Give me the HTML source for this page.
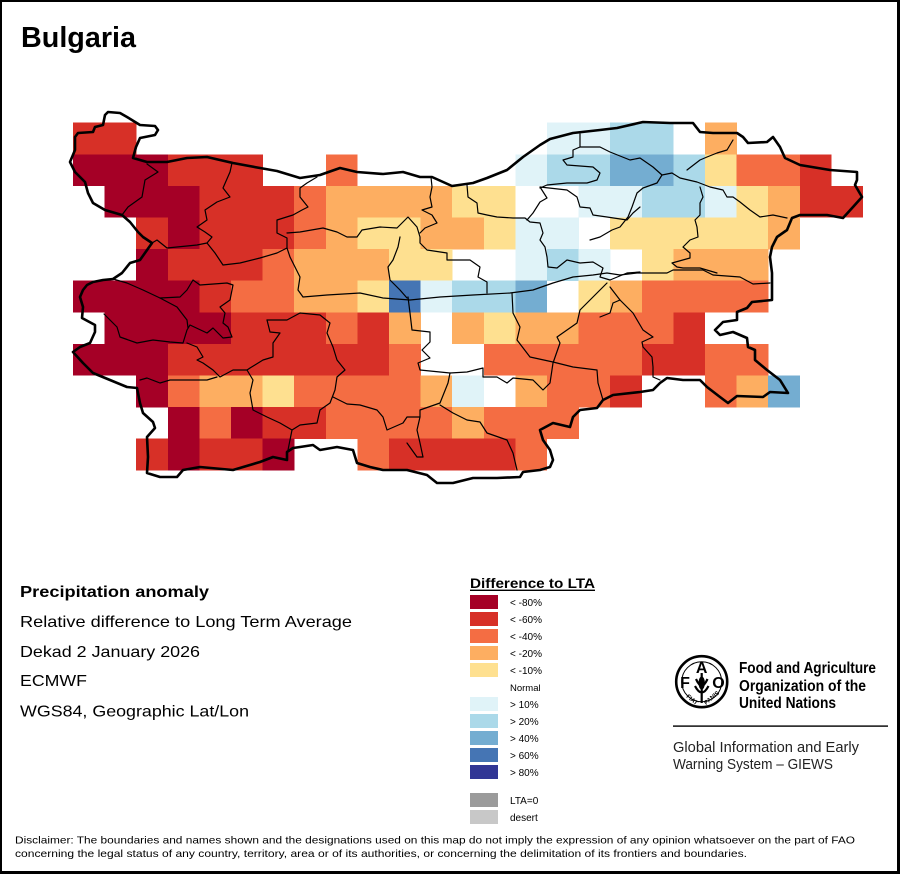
<!DOCTYPE html>
<html>
<head>
<meta charset="utf-8">
<style>
html,body{margin:0;padding:0;background:#fff;}
svg{display:block;}
text{font-family:"Liberation Sans",Arial,sans-serif;}
</style>
</head>
<body>
<svg width="900" height="874" viewBox="0 0 900 874" xmlns="http://www.w3.org/2000/svg">
<rect x="0" y="0" width="900" height="874" fill="#fff"/>

<!-- grid cells -->
<g shape-rendering="crispEdges">
<!-- row0 y122.7 -->
<rect x="73" y="122.7" width="63.4" height="31.8" fill="#d73027"/>
<rect x="547" y="122.7" width="63.4" height="31.8" fill="#e0f3f8"/>
<rect x="610.2" y="122.7" width="63.4" height="31.8" fill="#abd9e9"/>
<rect x="705" y="122.7" width="31.8" height="31.8" fill="#fdae61"/>
<!-- row1 y154.3 -->
<rect x="73" y="154.3" width="95" height="31.8" fill="#a50026"/>
<rect x="167.8" y="154.3" width="95" height="31.8" fill="#d73027"/>
<rect x="325.8" y="154.3" width="31.8" height="31.8" fill="#f46d43"/>
<rect x="515.4" y="154.3" width="31.8" height="31.8" fill="#e0f3f8"/>
<rect x="547" y="154.3" width="63.4" height="31.8" fill="#abd9e9"/>
<rect x="610.2" y="154.3" width="63.4" height="31.8" fill="#74add1"/>
<rect x="673.4" y="154.3" width="31.8" height="31.8" fill="#abd9e9"/>
<rect x="705" y="154.3" width="31.8" height="31.8" fill="#fee090"/>
<rect x="736.6" y="154.3" width="63.4" height="31.8" fill="#f46d43"/>
<rect x="799.8" y="154.3" width="31.8" height="31.8" fill="#d73027"/>
<!-- row2 y185.9 -->
<rect x="104.6" y="185.9" width="95" height="31.8" fill="#a50026"/>
<rect x="199.4" y="185.9" width="95" height="31.8" fill="#d73027"/>
<rect x="294.2" y="185.9" width="31.8" height="31.8" fill="#f46d43"/>
<rect x="325.8" y="185.9" width="126.6" height="31.8" fill="#fdae61"/>
<rect x="452.2" y="185.9" width="63.4" height="31.8" fill="#fee090"/>
<rect x="578.6" y="185.9" width="63.4" height="31.8" fill="#e0f3f8"/>
<rect x="641.8" y="185.9" width="63.4" height="31.8" fill="#abd9e9"/>
<rect x="705" y="185.9" width="31.8" height="31.8" fill="#e0f3f8"/>
<rect x="736.6" y="185.9" width="31.8" height="31.8" fill="#fee090"/>
<rect x="768.2" y="185.9" width="31.8" height="31.8" fill="#fdae61"/>
<rect x="799.8" y="185.9" width="63.4" height="31.8" fill="#d73027"/>
<!-- row3 y217.5 -->
<rect x="136.2" y="217.5" width="31.8" height="31.8" fill="#d73027"/>
<rect x="167.8" y="217.5" width="31.8" height="31.8" fill="#a50026"/>
<rect x="199.4" y="217.5" width="95" height="31.8" fill="#d73027"/>
<rect x="294.2" y="217.5" width="31.8" height="31.8" fill="#f46d43"/>
<rect x="325.8" y="217.5" width="31.8" height="31.8" fill="#fdae61"/>
<rect x="357.4" y="217.5" width="63.4" height="31.8" fill="#fee090"/>
<rect x="420.6" y="217.5" width="63.4" height="31.8" fill="#fdae61"/>
<rect x="483.8" y="217.5" width="31.8" height="31.8" fill="#fee090"/>
<rect x="515.4" y="217.5" width="63.4" height="31.8" fill="#e0f3f8"/>
<rect x="610.2" y="217.5" width="158.2" height="31.8" fill="#fee090"/>
<rect x="768.2" y="217.5" width="31.8" height="31.8" fill="#fdae61"/>
<!-- row4 y249.1 -->
<rect x="136.2" y="249.1" width="31.8" height="31.8" fill="#a50026"/>
<rect x="167.8" y="249.1" width="95" height="31.8" fill="#d73027"/>
<rect x="262.6" y="249.1" width="31.8" height="31.8" fill="#f46d43"/>
<rect x="294.2" y="249.1" width="95" height="31.8" fill="#fdae61"/>
<rect x="389" y="249.1" width="63.4" height="31.8" fill="#fee090"/>
<rect x="515.4" y="249.1" width="31.8" height="31.8" fill="#e0f3f8"/>
<rect x="547" y="249.1" width="31.8" height="31.8" fill="#abd9e9"/>
<rect x="578.6" y="249.1" width="31.8" height="31.8" fill="#e0f3f8"/>
<rect x="641.8" y="249.1" width="31.8" height="31.8" fill="#fee090"/>
<rect x="673.4" y="249.1" width="95" height="31.8" fill="#fdae61"/>
<!-- row5 y280.7 -->
<rect x="73" y="280.7" width="126.6" height="31.8" fill="#a50026"/>
<rect x="199.4" y="280.7" width="31.8" height="31.8" fill="#d73027"/>
<rect x="231" y="280.7" width="63.4" height="31.8" fill="#f46d43"/>
<rect x="294.2" y="280.7" width="63.4" height="31.8" fill="#fdae61"/>
<rect x="357.4" y="280.7" width="31.8" height="31.8" fill="#fee090"/>
<rect x="389" y="280.7" width="31.8" height="31.8" fill="#4575b4"/>
<rect x="420.6" y="280.7" width="31.8" height="31.8" fill="#e0f3f8"/>
<rect x="452.2" y="280.7" width="63.4" height="31.8" fill="#abd9e9"/>
<rect x="515.4" y="280.7" width="31.8" height="31.8" fill="#74add1"/>
<rect x="578.6" y="280.7" width="31.8" height="31.8" fill="#fee090"/>
<rect x="610.2" y="280.7" width="31.8" height="31.8" fill="#fdae61"/>
<rect x="641.8" y="280.7" width="126.6" height="31.8" fill="#f46d43"/>
<!-- row6 y312.3 -->
<rect x="104.6" y="312.3" width="126.6" height="31.8" fill="#a50026"/>
<rect x="231" y="312.3" width="95" height="31.8" fill="#d73027"/>
<rect x="325.8" y="312.3" width="31.8" height="31.8" fill="#f46d43"/>
<rect x="357.4" y="312.3" width="31.8" height="31.8" fill="#d73027"/>
<rect x="389" y="312.3" width="31.8" height="31.8" fill="#fdae61"/>
<rect x="452.2" y="312.3" width="31.8" height="31.8" fill="#fdae61"/>
<rect x="483.8" y="312.3" width="31.8" height="31.8" fill="#fee090"/>
<rect x="515.4" y="312.3" width="63.4" height="31.8" fill="#fdae61"/>
<rect x="578.6" y="312.3" width="95" height="31.8" fill="#f46d43"/>
<rect x="673.4" y="312.3" width="31.8" height="31.8" fill="#d73027"/>
<!-- row7 y343.9 -->
<rect x="73" y="343.9" width="95" height="31.8" fill="#a50026"/>
<rect x="167.8" y="343.9" width="221.4" height="31.8" fill="#d73027"/>
<rect x="389" y="343.9" width="31.8" height="31.8" fill="#f46d43"/>
<rect x="483.8" y="343.9" width="158.2" height="31.8" fill="#f46d43"/>
<rect x="641.8" y="343.9" width="63.4" height="31.8" fill="#d73027"/>
<rect x="705" y="343.9" width="63.4" height="31.8" fill="#f46d43"/>
<!-- row8 y375.5 -->
<rect x="136.2" y="375.5" width="31.8" height="31.8" fill="#a50026"/>
<rect x="167.8" y="375.5" width="31.8" height="31.8" fill="#f46d43"/>
<rect x="199.4" y="375.5" width="63.4" height="31.8" fill="#fdae61"/>
<rect x="262.6" y="375.5" width="31.8" height="31.8" fill="#fee090"/>
<rect x="294.2" y="375.5" width="126.6" height="31.8" fill="#f46d43"/>
<rect x="420.6" y="375.5" width="31.8" height="31.8" fill="#fdae61"/>
<rect x="452.2" y="375.5" width="31.8" height="31.8" fill="#e0f3f8"/>
<rect x="515.4" y="375.5" width="31.8" height="31.8" fill="#fdae61"/>
<rect x="547" y="375.5" width="63.4" height="31.8" fill="#f46d43"/>
<rect x="610.2" y="375.5" width="31.8" height="31.8" fill="#d73027"/>
<rect x="705" y="375.5" width="31.8" height="31.8" fill="#f46d43"/>
<rect x="736.6" y="375.5" width="31.8" height="31.8" fill="#fdae61"/>
<rect x="768.2" y="375.5" width="31.8" height="31.8" fill="#74add1"/>
<!-- row9 y407.1 -->
<rect x="167.8" y="407.1" width="31.8" height="31.8" fill="#a50026"/>
<rect x="199.4" y="407.1" width="31.8" height="31.8" fill="#f46d43"/>
<rect x="231" y="407.1" width="31.8" height="31.8" fill="#a50026"/>
<rect x="262.6" y="407.1" width="63.4" height="31.8" fill="#d73027"/>
<rect x="325.8" y="407.1" width="126.6" height="31.8" fill="#f46d43"/>
<rect x="452.2" y="407.1" width="31.8" height="31.8" fill="#fdae61"/>
<rect x="483.8" y="407.1" width="95" height="31.8" fill="#f46d43"/>
<!-- row10 y438.7 -->
<rect x="136.2" y="438.7" width="31.8" height="31.6" fill="#d73027"/>
<rect x="167.8" y="438.7" width="31.8" height="31.6" fill="#a50026"/>
<rect x="199.4" y="438.7" width="63.4" height="31.6" fill="#d73027"/>
<rect x="262.6" y="438.7" width="31.8" height="31.6" fill="#a50026"/>
<rect x="357.4" y="438.7" width="31.8" height="31.6" fill="#f46d43"/>
<rect x="389" y="438.7" width="126.6" height="31.6" fill="#d73027"/>
<rect x="515.4" y="438.7" width="31.8" height="31.6" fill="#f46d43"/>
</g>

<!-- internal boundaries -->
<g fill="none" stroke="#000" stroke-width="1.2" stroke-linejoin="round" stroke-linecap="round">
<polyline points="147,164 158,172 145,180 142,197 128,207 122,215"/>
<polyline points="232,163 230,172 223,188 230,197 217,202 205,210 207,220 197,227 205,232 212,237 207,243 197,245 167,248 157,240 152,243"/>
<polyline points="207,243 215,253 223,265 240,263 260,258 277,253 287,248 287,238 277,233 277,220 293,215 302,210 308,207 300,197 300,188 307,183 317,177"/>
<polyline points="287,233 300,232 323,228 337,232 347,237 357,237 362,230 380,227 397,228 408,217 417,227 420,237 420,243 427,250 447,253 447,260 470,260 480,267 478,277 487,282 487,293"/>
<polyline points="431,177 432,187 430,197 432,207 422,210 432,215 437,223 425,228 420,233"/>
<polyline points="400,237 398,247 393,260 388,267 390,280 400,290 407,298"/>
<polyline points="287,248 290,257 295,267 300,277 298,290 303,297 327,295 360,293 383,298 410,300 440,297 473,295 510,293 533,290 553,283 573,277 593,275 607,273 620,275 637,273 667,273 673,270 703,270 713,275 740,277 753,284 770,283"/>
<polyline points="113,279 127,283 143,290 160,298 180,297 187,290 193,280 200,285 227,283 233,285 230,300 220,307 225,313 223,323 228,327 232,337 223,338 220,335 213,328 207,333 190,325 187,330 183,343 170,342 153,340 137,343 120,337 117,327 104,314"/>
<polyline points="160,298 177,307 187,320 188,328"/>
<polyline points="267,320 287,320 300,313 320,315 330,323 327,333 333,347 337,360 345,370 337,377 335,390 330,403 320,410 317,423 300,425 292,430 290,440 288,450"/>
<polyline points="267,320 270,332 280,333 273,343 273,357 263,360 250,368 247,370 233,370 220,377 213,370 203,363 197,360 203,357 197,347 187,343"/>
<polyline points="247,370 253,380 250,393 253,410 267,417 280,423 292,430"/>
<polyline points="140,380 147,378 160,383 170,380 187,380 207,380 217,377"/>
<polyline points="333,397 347,404 360,405 377,410 383,417 387,430 403,423 407,417 420,417 420,410 440,403 448,383 450,373"/>
<polyline points="408,297 410,313 412,330 430,332 430,342 422,350 430,358 418,363 420,370 450,373 467,372 483,368 483,377 497,377 507,383 513,378 533,380 543,390 550,383 553,363 560,343 557,337 577,323 580,310 607,283"/>
<polyline points="512,293 513,313 520,327 517,340 530,357 553,362 573,367 597,370 598,383 603,400"/>
<polyline points="440,405 453,413 467,420 480,422 487,433 507,440 513,453 517,470"/>
<polyline points="420,417 417,430 420,443 423,457 417,457 407,443"/>
<polyline points="467,185 468,197 477,203 478,213 487,215 497,217 513,218 525,218 530,222 540,223 543,233 540,240 545,247 547,257 548,267 557,268 567,260 580,263 593,262 603,268 600,277 610,280 627,273 640,272"/>
<polyline points="527,220 533,213 540,202 547,198 540,187 567,190 577,197 580,207 590,208 593,215 607,217 627,220 633,213 640,207"/>
<polyline points="580,134 580,147 573,150 573,157 563,160 567,165 593,167 600,173 597,180 587,183 567,183 547,185 540,188"/>
<polyline points="580,147 600,147 610,152 630,160 640,158 653,167 662,175 672,173 680,178 697,182 710,187 723,190 727,197 733,197 740,202 750,210 760,217 773,215 787,218"/>
<polyline points="662,175 657,183 643,188 637,193 632,207 628,217 620,227 612,230 600,237 590,240"/>
<polyline points="687,170 700,160 707,157 717,153 727,150 733,140"/>
<polyline points="700,187 703,197 700,203 700,215 695,220 697,227 698,237 690,240 683,247 690,253 690,258 672,263 677,267 683,268 700,268 717,273"/>
<polyline points="610,287 620,300 633,313 643,330 653,337 642,342 643,347 652,357 653,367 653,377 660,380"/>
<polyline points="600,317 610,313 613,303 620,300"/>
</g>

<!-- outer border -->
<polygon fill="none" stroke="#000" stroke-width="2.6" stroke-linejoin="round" points="70,162 75,150 75,137 78,133 93,132 95,127 103,125 105,115 108,112 120,113 127,117 140,125 155,126 158,130 155,135 140,138 136,147 133,158 147,162 167,162 187,158 207,157 233,163 260,168 277,171 300,178 320,175 340,168 357,172 383,174 403,172 420,177 432,177 452,186 473,183 487,178 507,170 523,157 540,145 550,139 573,133 600,130 617,128 643,122 670,123 693,123 700,132 713,133 737,133 743,137 748,143 767,142 773,137 780,147 785,158 800,165 830,170 857,172 857,180 855,185 862,197 853,207 843,218 827,215 800,215 792,218 787,230 777,237 772,247 770,257 772,273 772,300 752,302 747,308 737,312 737,320 723,322 715,330 720,335 733,332 747,338 748,347 755,350 755,360 767,370 780,380 788,393 770,392 763,397 737,396 728,403 720,397 707,387 700,380 683,380 667,378 660,383 653,390 640,392 613,395 603,400 597,408 580,410 573,417 570,427 553,423 540,430 543,440 550,450 553,460 550,467 540,470 523,472 520,477 497,478 473,478 453,483 437,483 427,475 407,470 383,470 370,467 357,463 353,450 337,447 320,450 313,445 300,447 293,448 287,452 287,460 273,457 260,462 233,470 200,467 183,470 177,477 160,477 147,473 148,457 147,437 155,428 153,422 143,413 140,403 137,388 127,387 110,380 93,373 83,363 73,352 80,347 90,343 95,332 95,325 82,318 83,307 80,297 83,290 87,285 93,282 103,280 113,279 122,273 130,263 140,260 152,243 143,237 138,232 130,222 122,215 105,210 93,203 88,193 85,182 75,172"/>

<!-- title -->
<text x="21" y="47" font-size="28.5" font-weight="bold" textLength="115" lengthAdjust="spacingAndGlyphs">Bulgaria</text>

<!-- left text block -->
<text x="20" y="597" font-size="16" font-weight="bold" textLength="189" lengthAdjust="spacingAndGlyphs">Precipitation anomaly</text>
<text x="20" y="627" font-size="16" textLength="332" lengthAdjust="spacingAndGlyphs">Relative difference to Long Term Average</text>
<text x="20" y="657" font-size="16" textLength="180" lengthAdjust="spacingAndGlyphs">Dekad 2 January 2026</text>
<text x="20" y="686" font-size="16" textLength="67" lengthAdjust="spacingAndGlyphs">ECMWF</text>
<text x="20" y="716.5" font-size="16" textLength="229" lengthAdjust="spacingAndGlyphs">WGS84, Geographic Lat/Lon</text>

<!-- legend -->
<text x="470" y="588" font-size="14" font-weight="bold" textLength="125" lengthAdjust="spacingAndGlyphs">Difference to LTA</text>
<rect x="470" y="589.6" width="125" height="1.4" fill="#000"/>
<g shape-rendering="crispEdges">
<rect x="470" y="595" width="28" height="14" fill="#a50026"/>
<rect x="470" y="612" width="28" height="14" fill="#d73027"/>
<rect x="470" y="629" width="28" height="14" fill="#f46d43"/>
<rect x="470" y="646" width="28" height="14" fill="#fdae61"/>
<rect x="470" y="663" width="28" height="14" fill="#fee090"/>
<rect x="470" y="697" width="28" height="14" fill="#e0f3f8"/>
<rect x="470" y="714" width="28" height="14" fill="#abd9e9"/>
<rect x="470" y="731" width="28" height="14" fill="#74add1"/>
<rect x="470" y="748" width="28" height="14" fill="#4575b4"/>
<rect x="470" y="765" width="28" height="14" fill="#313695"/>
<rect x="470" y="793" width="28" height="14" fill="#9b9b9b"/>
<rect x="470" y="810" width="28" height="14" fill="#c8c8c8"/>
</g>
<g font-size="10">
<text x="510" y="606">&lt; -80%</text>
<text x="510" y="623">&lt; -60%</text>
<text x="510" y="640">&lt; -40%</text>
<text x="510" y="657">&lt; -20%</text>
<text x="510" y="674">&lt; -10%</text>
<text x="510" y="691" font-size="9.5">Normal</text>
<text x="510" y="708">&gt; 10%</text>
<text x="510" y="725">&gt; 20%</text>
<text x="510" y="742">&gt; 40%</text>
<text x="510" y="759">&gt; 60%</text>
<text x="510" y="776">&gt; 80%</text>
<text x="510" y="804">LTA=0</text>
<text x="510" y="821">desert</text>
</g>

<!-- FAO logo -->
<g>
<circle cx="701.7" cy="681.7" r="25.5" fill="none" stroke="#000" stroke-width="2.6"/>
<circle cx="701.7" cy="681.7" r="20" fill="none" stroke="#000" stroke-width="1"/>
<text x="685" y="688" font-size="16" font-weight="bold" text-anchor="middle">F</text>
<text x="701.7" y="673" font-size="16" font-weight="bold" text-anchor="middle">A</text>
<text x="718.5" y="688" font-size="16" font-weight="bold" text-anchor="middle">O</text>
<path d="M701.7 673 L701.7 703 M696 679 Q701.7 692 707.5 679 M695 686 Q701.7 699 708.5 686" fill="none" stroke="#000" stroke-width="2.2"/>
<ellipse cx="701.7" cy="683" rx="3.2" ry="6.5" fill="#000"/>
<text x="686" y="697" font-size="6" font-weight="bold" transform="rotate(40 686 697)">FIAT</text>
<text x="706" y="705" font-size="6" font-weight="bold" transform="rotate(-40 706 705)">PANIS</text>
</g>
<text x="739" y="673" font-size="16" font-weight="bold" textLength="137" lengthAdjust="spacingAndGlyphs">Food and Agriculture</text>
<text x="739" y="691" font-size="16" font-weight="bold" textLength="127" lengthAdjust="spacingAndGlyphs">Organization of the</text>
<text x="739" y="708" font-size="16" font-weight="bold" textLength="97" lengthAdjust="spacingAndGlyphs">United Nations</text>
<rect x="673" y="725.4" width="215" height="1.4" fill="#000"/>
<text x="673" y="752" font-size="15" fill="#222" textLength="186" lengthAdjust="spacingAndGlyphs">Global Information and Early</text>
<text x="673" y="769" font-size="15" fill="#222" textLength="160" lengthAdjust="spacingAndGlyphs">Warning System – GIEWS</text>

<!-- disclaimer -->
<text x="15" y="843.5" font-size="10.5" textLength="840" lengthAdjust="spacingAndGlyphs">Disclaimer: The boundaries and names shown and the designations used on this map do not imply the expression of any opinion whatsoever on the part of FAO</text>
<text x="15" y="857" font-size="10.5" textLength="732" lengthAdjust="spacingAndGlyphs">concerning the legal status of any country, territory, area or of its authorities, or concerning the delimitation of its frontiers and boundaries.</text>

<!-- frame -->
<rect x="0" y="0" width="900" height="2" fill="#000"/>
<rect x="0" y="0" width="2" height="874" fill="#000"/>
<rect x="897" y="0" width="3" height="874" fill="#000"/>
<rect x="0" y="871" width="900" height="3" fill="#000"/>
</svg>
</body>
</html>
